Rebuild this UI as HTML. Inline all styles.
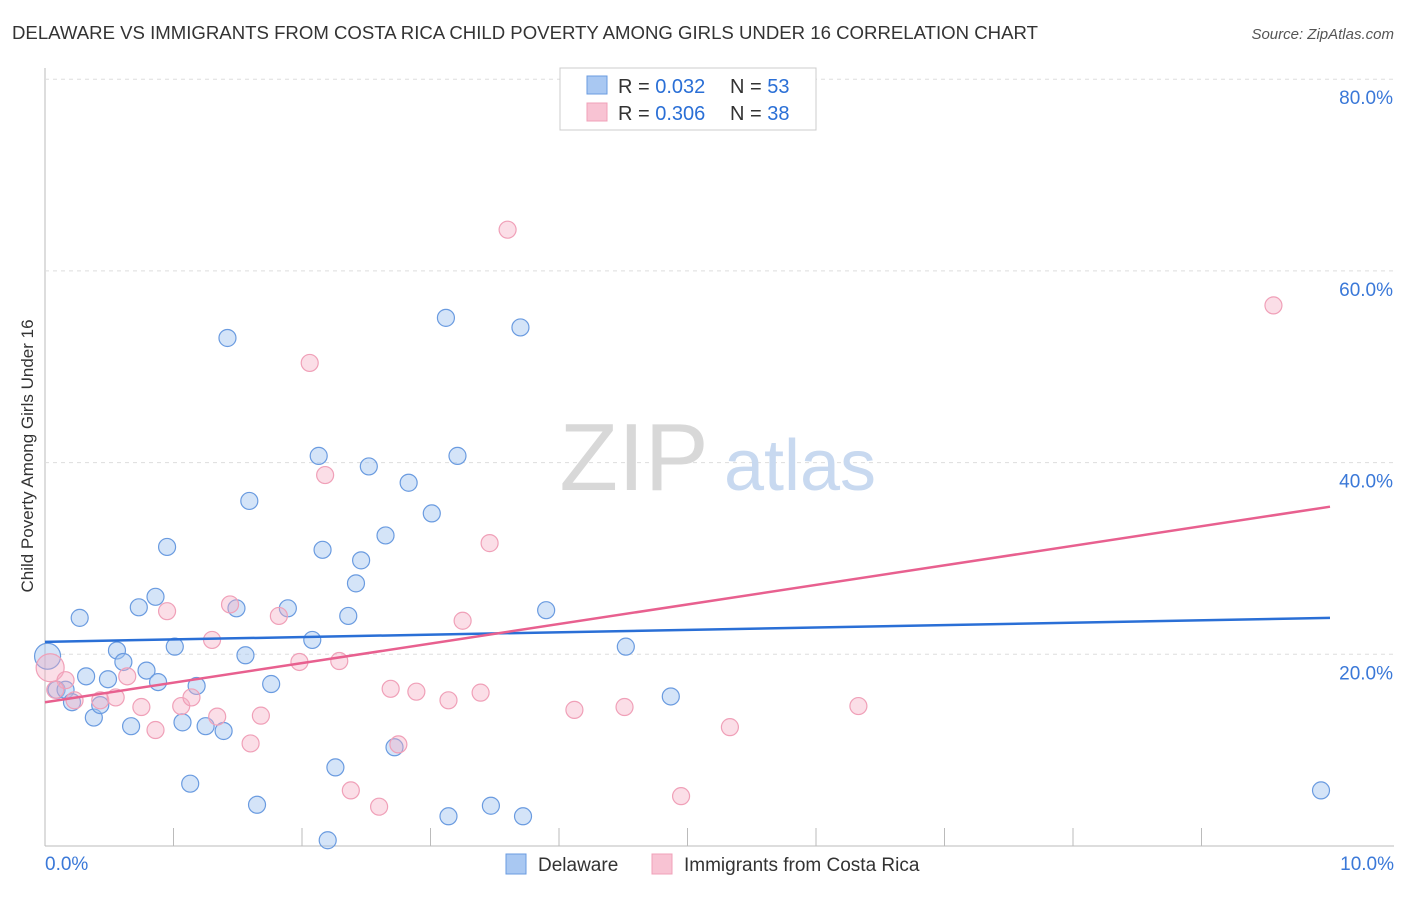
<!DOCTYPE html>
<html><head><meta charset="utf-8"><style>
body{margin:0;background:#fff;font-family:"Liberation Sans",sans-serif}
svg text{font-family:"Liberation Sans",sans-serif}
</style></head><body>
<svg id="chart" width="1406" height="892" xmlns="http://www.w3.org/2000/svg">
<text x="12" y="39" font-size="18.6" fill="#333">DELAWARE VS IMMIGRANTS FROM COSTA RICA CHILD POVERTY AMONG GIRLS UNDER 16 CORRELATION CHART</text>
<text x="1394" y="39" font-size="15" fill="#555" text-anchor="end" font-style="italic">Source: ZipAtlas.com</text>
<text transform="translate(33,456) rotate(-90)" font-size="17" fill="#333" text-anchor="middle">Child Poverty Among Girls Under 16</text>
<g id="grid"></g>
<g><text x="634" y="490" font-size="96" fill="#d8d8d8" text-anchor="middle" font-family="Liberation Serif, serif">ZIP</text><text x="800" y="490" font-size="72" fill="#c8d9f0" text-anchor="middle">atlas</text></g>
<g id="pts"></g>
<g id="lines"></g>
<g>
<rect x="560" y="68" width="256" height="62" fill="#fff" stroke="#ccc"/>
<rect x="587" y="76" width="20" height="18" fill="#a9c8f2" stroke="#6a9be0"/>
<text x="618" y="93" font-size="20" fill="#333">R = <tspan fill="#2a6fd6">0.032</tspan></text>
<text x="730" y="93" font-size="20" fill="#333">N = <tspan fill="#2a6fd6">53</tspan></text>
<rect x="587" y="103" width="20" height="18" fill="#f8c3d3" stroke="#f0a0b8"/>
<text x="618" y="120" font-size="20" fill="#333">R = <tspan fill="#2a6fd6">0.306</tspan></text>
<text x="730" y="120" font-size="20" fill="#333">N = <tspan fill="#2a6fd6">38</tspan></text>
</g>
<g>
<rect x="506" y="854" width="20" height="20" fill="#a9c8f2" stroke="#6a9be0"/>
<text x="538" y="871" font-size="19" fill="#333">Delaware</text>
<rect x="652" y="854" width="20" height="20" fill="#f8c3d3" stroke="#f0a0b8"/>
<text x="684" y="871" font-size="19" fill="#333">Immigrants from Costa Rica</text>
</g>
</svg>
<script>
const xTicksPct=[0,10];
const yTicks=[20,40,60,80];
const blueX=[0.02,0.09,0.16,0.21,0.27,0.32,0.38,0.43,0.49,0.56,0.61,0.67,0.73,0.79,0.86,0.88,0.95,1.01,1.07,1.13,1.18,1.25,1.39,1.42,1.49,1.56,1.59,1.65,1.76,1.89,2.08,2.13,2.16,2.20,2.26,2.36,2.42,2.46,2.52,2.65,2.72,2.83,3.01,3.12,3.14,3.21,3.47,3.70,3.72,3.90,4.52,4.87,9.93];
const blueY=[19.8,16.3,16.3,15.0,23.8,17.7,13.4,14.7,17.4,20.4,19.2,12.5,24.9,18.3,26.0,17.1,31.2,20.8,12.9,6.5,16.7,12.5,12.0,53.0,24.8,19.9,36.0,4.3,16.9,24.8,21.5,40.7,30.9,0.6,8.2,24.0,27.4,29.8,39.6,32.4,10.3,37.9,34.7,55.1,3.1,40.7,4.2,54.1,3.1,24.6,20.8,15.6,5.8];
const pinkX=[0.04,0.16,0.23,0.43,0.55,0.64,0.75,0.86,0.95,1.06,1.14,1.30,1.34,1.44,1.60,1.68,1.82,1.98,2.06,2.18,2.29,2.38,2.60,2.69,2.75,2.89,3.14,3.25,3.39,3.46,3.60,4.12,4.51,4.95,5.33,6.33,9.56,0.08];
const pinkY=[18.6,17.3,15.2,15.2,15.5,17.7,14.5,12.1,24.5,14.6,15.5,21.5,13.5,25.2,10.7,13.6,24.0,19.2,50.4,38.7,19.3,5.8,4.1,16.4,10.6,16.1,15.2,23.5,16.0,31.6,64.3,14.2,14.5,5.2,12.4,14.6,56.4,16.3];
const blueTrend=[21.3,23.8];
const pinkTrend=[15.0,35.4];
const NS='http://www.w3.org/2000/svg';
const sx=v=>45+v*128.5, sy=v=>846-v*9.585;
function mk(t,a,p){const e=document.createElementNS(NS,t);for(const k in a)e.setAttribute(k,a[k]);p.appendChild(e);return e;}
const grid=document.getElementById('grid');
mk('line',{x1:45,y1:68,x2:45,y2:846,stroke:'#bbb'},grid);
mk('line',{x1:45,y1:846,x2:1394,y2:846,stroke:'#bbb'},grid);
for(let i=0;i<=10;i++){mk('line',{x1:sx(i),y1:846,x2:sx(i),y2:i%10==0?846:828,stroke:'#bbb'},grid);}
yTicks.forEach(t=>{
const l=mk('line',{x1:45,y1:sy(t),x2:1394,y2:sy(t),stroke:'#ddd','stroke-dasharray':'4,4'},grid);


const tx=mk('text',{x:1393,y:sy(t)+25,'font-size':19,fill:'#3a78d8','text-anchor':'end'},grid);
tx.textContent=t.toFixed(1)+'%';


});
xTicksPct.forEach(t=>{
const tx=mk('text',{x:t==0?45:1394,y:870,'font-size':19,fill:'#3a78d8','text-anchor':t==0?'start':'end'},grid);
tx.textContent=t.toFixed(1)+'%';


});
const pts=document.getElementById('pts');
blueX.forEach((x,i)=>{
const c=mk('circle',{cx:sx(x),cy:sy(blueY[i]),r:i==0?13:8.5,fill:'rgba(160,196,240,0.45)',stroke:'#6a9be0','stroke-width':1.2},pts);


});
pinkX.forEach((x,i)=>{
const c=mk('circle',{cx:sx(x),cy:sy(pinkY[i]),r:i==0?14:8.5,fill:'rgba(246,172,196,0.4)',stroke:'#f0a0b8','stroke-width':1.2},pts);


});
const lines=document.getElementById('lines');
const bl=mk('line',{x1:sx(0),y1:sy(blueTrend[0]),x2:sx(10),y2:sy(blueTrend[1]),stroke:'#2a6fd6','stroke-width':2.5},lines);


const pl=mk('line',{x1:sx(0),y1:sy(pinkTrend[0]),x2:sx(10),y2:sy(pinkTrend[1]),stroke:'#e8608f','stroke-width':2.5},lines);


</script>
</body></html>
